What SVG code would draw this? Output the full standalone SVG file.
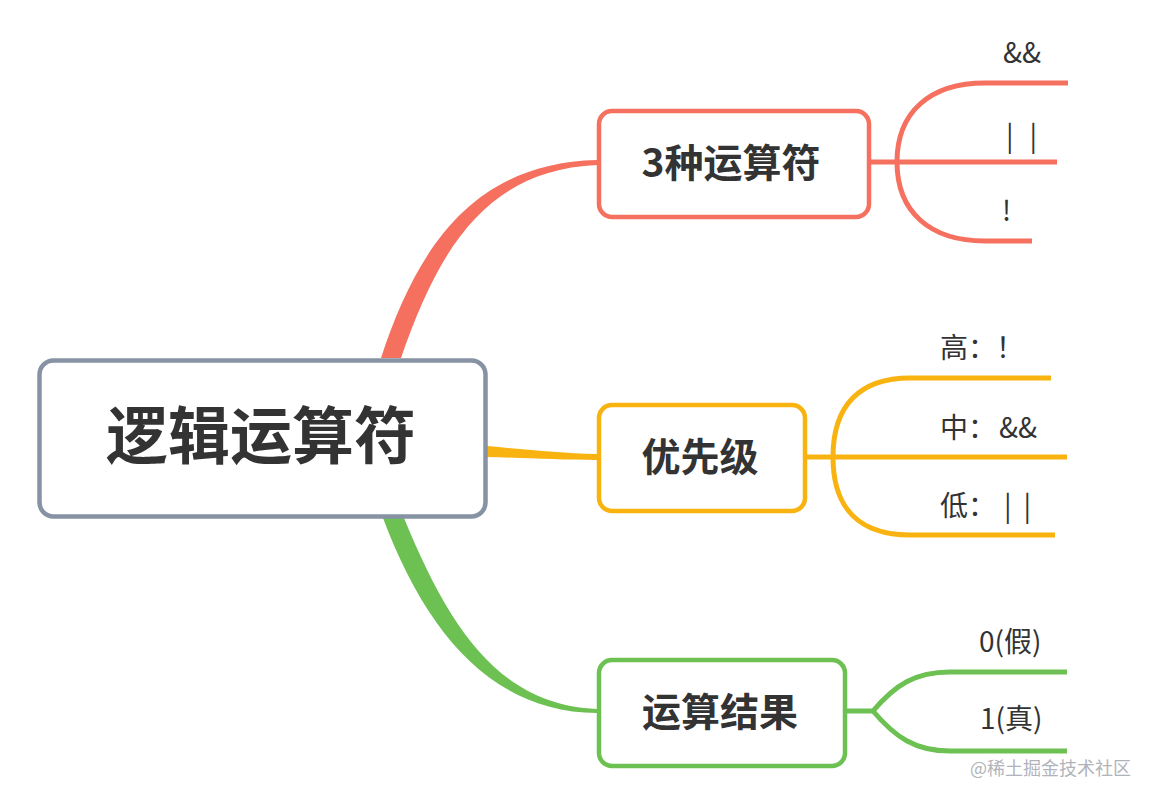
<svg xmlns="http://www.w3.org/2000/svg" width="1153" height="801" viewBox="0 0 1153 801">
<style>
  .box { fill: #ffffff; stroke-width: 4.5; }
  .title { font-family: "Noto Sans CJK SC", "Liberation Sans", sans-serif; font-weight: 700; fill: #333333; text-anchor: middle; }
  .leaf { font-family: "Noto Sans CJK SC", "Liberation Sans", sans-serif; font-size: 28px; fill: #333333; }
  .br { fill: none; stroke-width: 5; stroke-linecap: butt; }
  .red { stroke: #f5705e; }
  .yel { stroke: #f9b311; }
  .grn { stroke: #6cc152; }
</style>
<rect width="1153" height="801" fill="#ffffff"/>
<g id="connectors">
  <path d="M 381 358 C 418 245 475 163 597 160 L 597 165 C 488 170 440 245 401 358 Z" fill="#f5705e"/>
  <path d="M 487 446 C 530 450 560 453 597 454 L 597 460 C 560 460 530 458 487 457 Z" fill="#f9b311"/>
  <path d="M 383 518 C 425 630 490 712 597 713 L 597 709 C 500 705 450 630 404 518 Z" fill="#6cc152"/>
  <path class="br red" d="M 870 162 H 1057"/>
  <path class="br red" d="M 897 162 C 897 112 930 83 985 83 H 1068"/>
  <path class="br red" d="M 897 162 C 897 212 930 241 985 241 H 1032"/>
  <path class="br yel" d="M 806 457 H 1067"/>
  <path class="br yel" d="M 833 457 C 833 405 860 378 910 378 H 1051"/>
  <path class="br yel" d="M 833 457 C 833 509 860 535 910 535 H 1055"/>
  <path class="br grn" d="M 846 711 H 873"/>
  <path class="br grn" d="M 873 711 C 895 685 915 672 950 672 H 1067"/>
  <path class="br grn" d="M 873 711 C 895 737 915 751 950 751 H 1067"/>
</g>
<g id="root">
  <rect class="box" x="39.5" y="360.5" width="446" height="156" rx="14" stroke="#8792a4" stroke-width="5"/>
  <text class="title" x="261" y="459" font-size="62">逻辑运算符</text>
</g>
<g id="n1">
  <rect class="box" x="599" y="111" width="270" height="106" rx="13" stroke="#f5705e"/>
  <text class="title" x="731" y="177" font-size="39">3种运算符</text>
</g>
<g id="n1a"><text class="leaf" x="1003" y="63">&amp;&amp;</text></g>
<g id="n1b"><text class="leaf" x="1006" y="146" letter-spacing="16">||</text></g>
<g id="n1c"><text class="leaf" x="1002" y="221">!</text></g>
<g id="n2">
  <rect class="box" x="599" y="405" width="206" height="106" rx="13" stroke="#f9b311"/>
  <text class="title" x="700" y="471" font-size="39">优先级</text>
</g>
<g id="n2a"><text class="leaf" x="940" y="358">高：！</text></g>
<g id="n2b"><text class="leaf" x="940" y="438">中：<tspan dx="3">&amp;&amp;</tspan></text></g>
<g id="n2c"><text class="leaf" x="940" y="516">低：<tspan dx="8" letter-spacing="12">||</tspan></text></g>
<g id="n3">
  <rect class="box" x="599" y="660" width="246" height="106" rx="13" stroke="#6cc152"/>
  <text class="title" x="720" y="726" font-size="39">运算结果</text>
</g>
<g id="n3a"><text class="leaf" x="979" y="652">0(假)</text></g>
<g id="n3b"><text class="leaf" x="980" y="729">1(真)</text></g>
<text x="970" y="775" font-family="Noto Sans CJK SC, sans-serif" font-size="18" fill="#b0b4ba">@稀土掘金技术社区</text>
</svg>
